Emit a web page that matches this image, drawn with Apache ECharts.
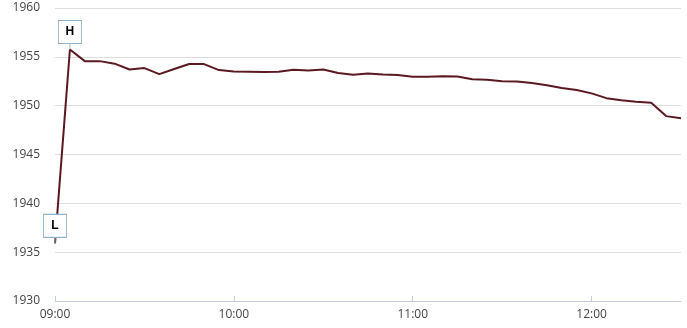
<!DOCTYPE html>
<html>
<head>
<meta charset="utf-8">
<script src="https://cdn.jsdelivr.net/npm/echarts@6/dist/echarts.min.js"></script>
<style>
html,body{margin:0;padding:0;background:#fff;}
#chart{width:687px;height:328px;}
</style>
</head>
<body>
<div id="chart"></div>
<script>
var times = ['09:00','09:05','09:10','09:15','09:20','09:25','09:30','09:35','09:40','09:45','09:50','09:55',
  '10:00','10:05','10:10','10:15','10:20','10:25','10:30','10:35','10:40','10:45','10:50','10:55',
  '11:00','11:05','11:10','11:15','11:20','11:25','11:30','11:35','11:40','11:45','11:50','11:55',
  '12:00','12:05','12:10','12:15','12:20','12:25','12:30'];
var prices = [1935.9,1955.75,1954.56,1954.56,1954.3,1953.7,1953.85,1953.23,1953.75,1954.26,1954.26,1953.64,
  1953.5,1953.47,1953.44,1953.47,1953.67,1953.6,1953.7,1953.34,1953.16,1953.3,1953.2,1953.13,
  1952.96,1952.96,1953.0,1952.98,1952.7,1952.66,1952.5,1952.48,1952.31,1952.1,1951.8,1951.6,
  1951.26,1950.77,1950.55,1950.4,1950.3,1948.93,1948.7];
var yTicks = [1930,1935,1940,1945,1950,1955,1960];

var chart = echarts.init(document.getElementById('chart'));
var boxPath = 'path://M0 0H23V23H11.5V29H11.5V23H0Z';
chart.setOption({
  animation: false,
  grid: {left: 55, right: 6, top: 8, bottom: 27},
  xAxis: {
    type: 'category',
    data: times,
    boundaryGap: false,
    axisLine: {lineStyle: {color: '#c3ccd8', width: 1}},
    axisTick: {inside: true, length: 5, interval: 11, lineStyle: {color: '#c3ccd8'}},
    axisLabel: {interval: 11, color: '#444', fontSize: 12, fontFamily: 'Open Sans', margin: 8},
    splitLine: {show: false}
  },
  yAxis: {
    type: 'value',
    min: yTicks[0],
    max: yTicks[yTicks.length - 1],
    interval: 5,
    axisLine: {show: false},
    axisTick: {show: false},
    axisLabel: {color: '#444', fontSize: 12, fontFamily: 'Open Sans', margin: 15,
      formatter: function (v) { return String(v); }},
    splitLine: {lineStyle: {color: '#dddddd', width: 1}}
  },
  series: [{
    type: 'line',
    data: prices,
    showSymbol: false,
    symbol: 'none',
    lineStyle: {color: '#5b1820', width: 2},
    itemStyle: {color: '#5b1820'},
    markPoint: {
      symbol: boxPath,
      symbolSize: [23, 29],
      symbolOffset: [0, '-50%'],
      itemStyle: {color: '#ffffff', borderColor: '#93b3cc', borderWidth: 1},
      label: {show: true, position: 'inside', offset: [0, -3], color: '#000', fontWeight: 'bold', fontSize: 12, fontFamily: 'Arial'},
      data: [
        {type: 'max', name: 'H', label: {formatter: 'H'}},
        {type: 'min', name: 'L', label: {formatter: 'L'}}
      ]
    }
  }]
});
</script>
</body>
</html>
